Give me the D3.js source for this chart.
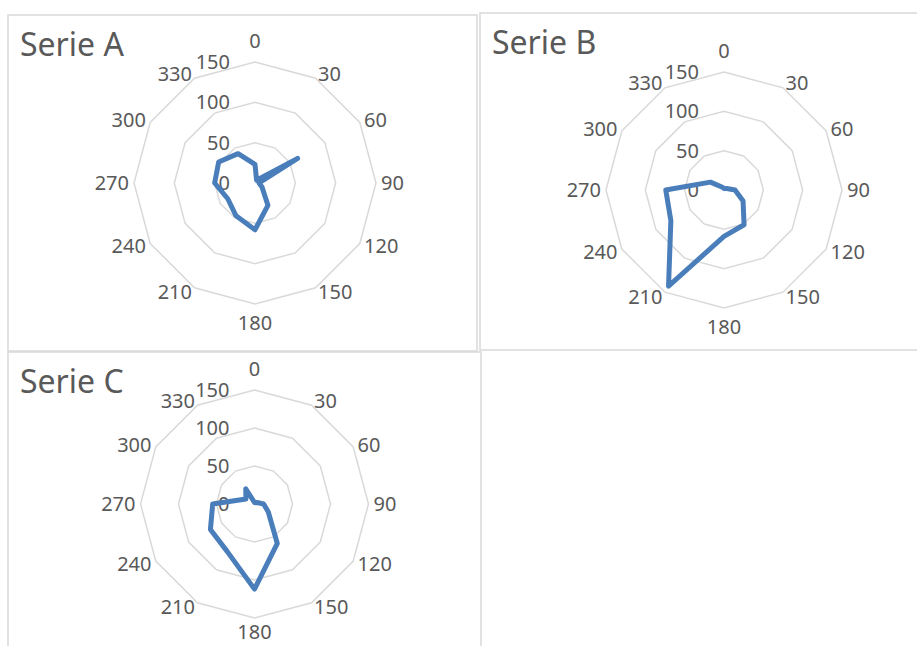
<!DOCTYPE html>
<html>
<head>
<meta charset="utf-8">
<script src="https://cdn.jsdelivr.net/npm/d3@7"></script>
<style>
  body { margin: 0; background: #fff; }
  text { font-family: "Noto Sans", "Open Sans", sans-serif; fill: #595959; }
</style>
</head>
<body>
<div id="chart"></div>
<script>
// categories around the radar (clockwise from top)
var categories = ["0", "30", "60", "90", "120", "150", "180", "210", "240", "270", "300", "330"];
var tickValues = [0, 50, 100, 150];
var titles = ["Serie A", "Serie B", "Serie C"];

// values
var serieA = [23, 4, 61, 5, 10, 32, 58, 47, 39, 50, 52, 42];
var serieB = [2, 2, 4, 14, 28, 51, 59, 141, 78, 74, 20, 4];
var serieC = [2, 2, 4, 12, 21, 60, 112, 72, 67, 55, 13, 23];

// chart boxes, as placed on the sheet
var panels = [
  {title: titles[0], values: serieA, box: [8, 15, 469, 336], cx: 255, cy: 183, r: 121, bottomPad: 19},
  {title: titles[1], values: serieB, box: [480, 13, 460, 337], cx: 724, cy: 190, r: 118, bottomPad: 19},
  {title: titles[2], values: serieC, box: [8, 352, 473, 320], cx: 254.5, cy: 504, r: 114, bottomPad: 14}
];

var svg = d3.select("#chart").append("svg")
  .attr("width", 917)
  .attr("height", 646);

var angle = d3.scaleLinear()
  .domain([0, categories.length])
  .range([0, 2 * Math.PI]);

function drawPanel(p) {
  svg.append("rect")
    .attr("x", p.box[0]).attr("y", p.box[1])
    .attr("width", p.box[2]).attr("height", p.box[3])
    .attr("fill", "#fff")
    .attr("stroke", "#d9d9d9")
    .attr("stroke-width", 1.5);

  var g = svg.append("g").attr("transform", "translate(" + p.cx + "," + p.cy + ")");

  var radius = d3.scaleLinear().domain([0, 150]).range([0, p.r]);

  var line = d3.lineRadial()
    .angle(function(d, i) { return angle(i); })
    .radius(function(d) { return radius(d); })
    .curve(d3.curveLinearClosed);

  // rings
  g.selectAll(".ring")
    .data(tickValues.slice(1))
    .enter().append("path")
    .attr("class", "ring")
    .attr("d", function(v) { return line(categories.map(function() { return v; })); })
    .attr("fill", "none")
    .attr("stroke", "#d9d9d9")
    .attr("stroke-width", 1.5);

  // value axis labels
  g.selectAll(".tick")
    .data(tickValues)
    .enter().append("text")
    .attr("class", "tick")
    .attr("x", -25)
    .attr("y", function(v) { return -radius(v); })
    .attr("dy", "0.35em")
    .attr("text-anchor", "end")
    .style("font-size", "20px")
    .text(function(v) { return v; });

  // category labels
  g.selectAll(".cat")
    .data(categories)
    .enter().append("text")
    .attr("class", "cat")
    .each(function(c, i) {
      var a = angle(i), s = Math.sin(a), co = Math.cos(a);
      var rr = p.r + 5;
      var x = rr * s, y = -rr * co;
      var anchor = "middle";
      if (s > 0.01) anchor = "start";
      if (s < -0.01) anchor = "end";
      if (Math.abs(s) <= 0.01) y = co > 0 ? -p.r - 21 : p.r + p.bottomPad;
      d3.select(this)
        .attr("x", x).attr("y", y)
        .attr("dy", "0.35em")
        .attr("text-anchor", anchor);
    })
    .style("font-size", "20px")
    .text(function(c) { return c; });

  // the series
  g.append("path")
    .datum(p.values)
    .attr("d", line)
    .attr("fill", "none")
    .attr("stroke", "#4a7ebb")
    .attr("stroke-width", 5)
    .attr("stroke-linejoin", "round");

  svg.append("text")
    .attr("x", p.box[0] + 12)
    .attr("y", p.box[1] + 41)
    .style("font-size", "32px")
    .text(p.title);
}

panels.forEach(drawPanel);
</script>
</body>
</html>
